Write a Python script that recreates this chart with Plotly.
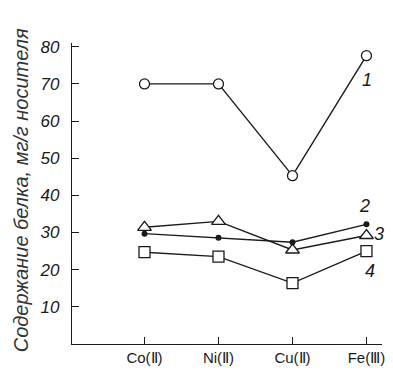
import plotly.graph_objects as go

categories = ["Co(Ⅱ)", "Ni(Ⅱ)", "Cu(Ⅱ)", "Fe(Ⅲ)"]
series_1 = [70, 70, 45.3, 77.6]
series_2 = [29.7, 28.6, 27.4, 32.2]
series_3 = [31.4, 33.0, 25.3, 29.2]
series_4 = [24.7, 23.5, 16.4, 25.0]
y_ticks = [10, 20, 30, 40, 50, 60, 70, 80]
curve_labels = ["1", "2", "3", "4"]

FONT = "Liberation Sans, Arial, sans-serif"
x = list(range(len(categories)))

fig = go.Figure()
line = dict(color="#1a1a1a", width=1.4)
fig.add_trace(go.Scatter(x=x, y=series_1, mode="lines+markers", line=line,
                         marker=dict(symbol="circle", size=10, color="white",
                                     line=dict(color="#1a1a1a", width=1.3))))
fig.add_trace(go.Scatter(x=x, y=series_3, mode="lines+markers", line=line,
                         marker=dict(symbol="triangle-up", size=12, color="white",
                                     line=dict(color="#1a1a1a", width=1.3))))
fig.add_trace(go.Scatter(x=x, y=series_2, mode="lines+markers", line=line,
                         marker=dict(symbol="circle", size=6, color="#1a1a1a")))
fig.add_trace(go.Scatter(x=x, y=series_4, mode="lines+markers", line=line,
                         marker=dict(symbol="square", size=11, color="white",
                                     line=dict(color="#1a1a1a", width=1.3))))

# curve number labels (paper coords)
label_pos = [(0.952, 0.878), (0.942, 0.459), (0.99, 0.366), (0.962, 0.241)]
for txt, (lx, ly) in zip(curve_labels, label_pos):
    fig.add_annotation(xref="paper", yref="paper", x=lx, y=ly, text=txt,
                       showarrow=False, xanchor="center", yanchor="middle",
                       font=dict(family=FONT, size=18, color="#1a1a1a", style="italic"))

fig.add_annotation(xref="paper", yref="paper", x=-0.162, y=0.51,
                   text="Содержание белка, мг/г носителя", textangle=-90,
                   showarrow=False, xanchor="center", yanchor="middle",
                   font=dict(family=FONT, size=20, color="#333333", style="italic"))

fig.update_layout(
    width=385, height=366,
    margin=dict(l=64, r=8, t=35, b=28),
    plot_bgcolor="white", paper_bgcolor="white",
    showlegend=False,
    xaxis=dict(range=[-0.98, 3.21], tickvals=x, ticktext=categories,
               showgrid=False, zeroline=False, showline=True, linecolor="#1a1a1a",
               linewidth=1.3, ticks="inside", ticklen=7, tickcolor="#1a1a1a",
               ticklabeloverflow="allow",
               tickfont=dict(family=FONT, size=15, color="#1a1a1a")),
    yaxis=dict(range=[0, 81], tickvals=y_ticks, showgrid=False, zeroline=False,
               showline=True, linecolor="#1a1a1a", linewidth=1.3, ticks="inside",
               ticklen=7, tickcolor="#1a1a1a", ticklabelstandoff=8,
               tickfont=dict(family=FONT, size=17, color="#1a1a1a", style="italic")),
)

fig.write_html("out.html")
